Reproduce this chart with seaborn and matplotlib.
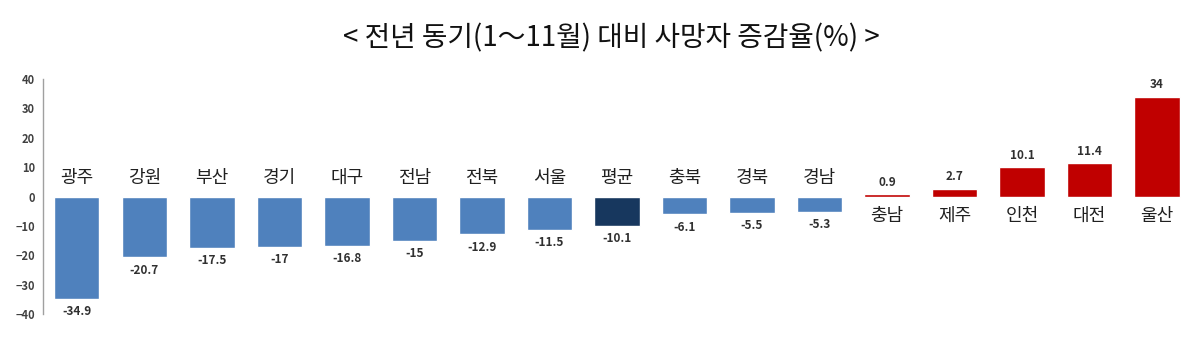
import matplotlib
matplotlib.use("Agg")
import matplotlib.pyplot as plt
import seaborn as sns

# data #
regions = ["광주", "강원", "부산", "경기", "대구", "전남", "전북", "서울", "평균",
           "충북", "경북", "경남", "충남", "제주", "인천", "대전", "울산"]
rates = [-34.9, -20.7, -17.5, -17, -16.8, -15, -12.9, -11.5, -10.1,
         -6.1, -5.5, -5.3, 0.9, 2.7, 10.1, 11.4, 34]
value_labels = ["-34.9", "-20.7", "-17.5", "-17", "-16.8", "-15", "-12.9", "-11.5", "-10.1",
                "-6.1", "-5.5", "-5.3", "0.9", "2.7", "10.1", "11.4", "34"]

BLUE, NAVY, RED = "#4F81BD", "#17375E", "#C00000"
colors = [NAVY if r == "평균" else (RED if v > 0 else BLUE) for r, v in zip(regions, rates)]

sns.set_style("white")
plt.rcParams["font.family"] = ["Noto Sans CJK KR", "DejaVu Sans"]

fig = plt.figure(figsize=(11.98, 3.59), dpi=100)
ax = fig.add_axes([0.036, 0.125, 0.958, 0.655])

sns.barplot(x=regions, y=rates, hue=regions, palette=colors, legend=False,
            width=0.67, saturation=1, ax=ax)

ax.set_ylim(-40, 40)
ax.set_xlim(-0.5, 16.5)
ax.set_yticks(range(-40, 41, 10))
ax.tick_params(axis="y", length=0, pad=6, labelsize=8, labelcolor="#404040")
for t in ax.get_yticklabels():
    t.set_fontweight("bold")
ax.set_xticks([])
ax.set_xlabel("")
ax.set_ylabel("")
for s in ["top", "right", "bottom"]:
    ax.spines[s].set_visible(False)
ax.spines["left"].set_color("#A0A0A0")
ax.spines["left"].set_linewidth(1)

# labels #
for i, (name, v, lab) in enumerate(zip(regions, rates, value_labels)):
    if v < 0:
        ax.text(i, 6.3, name, ha="center", va="center", fontsize=13, color="#202020")
        ax.text(i, v - 4.3, lab, ha="center", va="center", fontsize=8.5,
                color="#303030", fontweight="semibold")
    else:
        ax.text(i, -6.5, name, ha="center", va="center", fontsize=13, color="#202020")
        ax.text(i, v + 4.0, lab, ha="center", va="center", fontsize=8.5,
                color="#303030", fontweight="semibold")

fig.text(0.51, 0.893, "< 전년 동기(1～11월) 대비 사망자 증감율(%) >", ha="center",
         va="center", fontsize=20, color="#111111")

fig.savefig("out.png", dpi=100)
